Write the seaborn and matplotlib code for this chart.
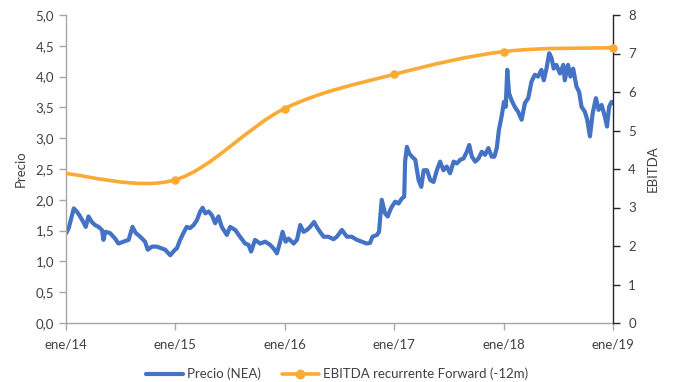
import matplotlib
matplotlib.use("Agg")
import matplotlib.pyplot as plt
import matplotlib.dates as mdates
from matplotlib.path import Path
from matplotlib.patches import PathPatch
from matplotlib.lines import Line2D
from matplotlib.ticker import FuncFormatter, MultipleLocator
import numpy as np
import pandas as pd
import seaborn as sns

# Share price (NEA), EUR
price_dates = [
    "2014-01-02", "2014-01-10", "2014-01-27", "2014-02-06", "2014-02-17", "2014-03-02",
    "2014-03-08", "2014-03-17", "2014-03-28", "2014-04-08", "2014-04-20", "2014-05-01",
    "2014-05-06", "2014-05-12", "2014-05-28", "2014-06-14", "2014-06-25", "2014-07-12",
    "2014-07-29", "2014-08-11", "2014-08-22", "2014-09-06", "2014-09-22", "2014-10-01",
    "2014-10-15", "2014-10-31", "2014-11-17", "2014-11-28", "2014-12-15", "2014-12-31",
    "2015-01-06", "2015-01-17", "2015-01-28", "2015-02-08", "2015-02-19", "2015-03-03",
    "2015-03-14", "2015-03-25", "2015-04-02", "2015-04-11", "2015-04-22", "2015-05-03",
    "2015-05-14", "2015-05-25", "2015-06-05", "2015-06-22", "2015-07-03", "2015-07-20",
    "2015-08-05", "2015-08-22", "2015-09-02", "2015-09-11", "2015-09-24", "2015-10-11",
    "2015-10-28", "2015-11-13", "2015-11-25", "2015-12-06", "2015-12-17", "2015-12-25",
    "2016-01-04", "2016-01-14", "2016-01-31", "2016-02-11", "2016-02-22", "2016-03-04",
    "2016-03-15", "2016-03-26", "2016-04-08", "2016-04-17", "2016-04-28", "2016-05-10",
    "2016-05-26", "2016-06-12", "2016-06-23", "2016-07-10", "2016-07-27", "2016-08-12",
    "2016-08-29", "2016-09-14", "2016-10-01", "2016-10-12", "2016-10-20", "2016-11-04",
    "2016-11-11", "2016-11-20", "2016-12-01", "2016-12-10", "2016-12-18", "2016-12-24",
    "2017-01-04", "2017-01-15", "2017-01-26", "2017-02-03", "2017-02-06", "2017-02-12",
    "2017-02-20", "2017-03-01", "2017-03-12", "2017-03-23", "2017-04-01", "2017-04-09",
    "2017-04-20", "2017-05-01", "2017-05-12", "2017-05-23", "2017-06-03", "2017-06-14",
    "2017-06-25", "2017-07-06", "2017-07-18", "2017-07-29", "2017-08-09", "2017-08-20",
    "2017-08-31", "2017-09-08", "2017-09-17", "2017-09-28", "2017-10-09", "2017-10-20",
    "2017-10-31", "2017-11-11", "2017-11-22", "2017-12-01", "2017-12-09", "2017-12-16",
    "2017-12-25", "2018-01-02", "2018-01-08", "2018-01-13", "2018-01-19", "2018-01-27",
    "2018-02-07", "2018-02-18", "2018-03-02", "2018-03-13", "2018-03-24", "2018-04-04",
    "2018-04-15", "2018-04-26", "2018-05-07", "2018-05-15", "2018-05-24", "2018-06-02",
    "2018-06-10", "2018-06-17", "2018-06-26", "2018-07-08", "2018-07-19", "2018-07-24",
    "2018-08-04", "2018-08-12", "2018-08-21", "2018-09-01", "2018-09-10", "2018-09-18",
    "2018-09-29", "2018-10-07", "2018-10-16", "2018-10-25", "2018-11-05", "2018-11-14",
    "2018-11-24", "2018-12-05", "2018-12-12", "2018-12-19", "2018-12-27", "2018-12-31",
]
price_values = [
    1.46, 1.54, 1.86, 1.81, 1.73, 1.62,
    1.56, 1.73, 1.64, 1.59, 1.56, 1.51,
    1.35, 1.48, 1.46, 1.37, 1.29, 1.32,
    1.35, 1.56, 1.46, 1.40, 1.32, 1.19,
    1.24, 1.24, 1.21, 1.19, 1.10, 1.19,
    1.21, 1.35, 1.46, 1.56, 1.54, 1.59,
    1.67, 1.81, 1.87, 1.78, 1.81, 1.75,
    1.62, 1.73, 1.56, 1.43, 1.56, 1.51,
    1.40, 1.29, 1.27, 1.16, 1.35, 1.29,
    1.32, 1.27, 1.21, 1.13, 1.32, 1.48,
    1.32, 1.37, 1.29, 1.35, 1.59, 1.48,
    1.51, 1.56, 1.64, 1.56, 1.48, 1.40,
    1.40, 1.36, 1.40, 1.51, 1.40, 1.40,
    1.35, 1.32, 1.29, 1.30, 1.40, 1.43,
    1.48, 2.00, 1.78, 1.73, 1.83, 1.89,
    1.97, 1.94, 2.02, 2.05, 2.62, 2.86,
    2.75, 2.70, 2.65, 2.32, 2.21, 2.48,
    2.48, 2.32, 2.29, 2.48, 2.62, 2.48,
    2.54, 2.43, 2.62, 2.59, 2.65, 2.67,
    2.78, 2.89, 2.70, 2.62, 2.67, 2.78,
    2.73, 2.84, 2.70, 2.70, 2.84, 3.13,
    3.35, 3.59, 3.51, 4.11, 3.73, 3.62,
    3.51, 3.43, 3.30, 3.57, 3.65, 3.92,
    4.03, 4.00, 4.11, 3.94, 4.13, 4.38,
    4.30, 4.13, 4.19, 4.05, 4.19, 3.94,
    4.19, 4.00, 4.13, 3.84, 3.75, 3.51,
    3.43, 3.30, 3.03, 3.40, 3.65, 3.46,
    3.54, 3.35, 3.19, 3.51, 3.59, 3.57,
]

# Recurring EBITDA forward (-12m)
ebitda_dates = ["2014-01-01", "2015-01-01", "2016-01-01", "2017-01-01", "2018-01-01", "2019-01-01"]
ebitda_values = [3.88, 3.72, 5.57, 6.46, 7.05, 7.15]

x_tick_dates = ["2014-01-01", "2015-01-01", "2016-01-01", "2017-01-01", "2018-01-01", "2019-01-01"]
x_tick_labels = ["ene/14", "ene/15", "ene/16", "ene/17", "ene/18", "ene/19"]

BLUE = "#4472C4"
ORANGE = "#FBAA33"
TEXT = "#404040"
SPINE = "#A6A6A6"

sns.set_theme(style="white")
plt.rcParams["font.family"] = ["Lato", "DejaVu Sans"]
plt.rcParams["font.size"] = 9.5

price_df = pd.DataFrame({"fecha": pd.to_datetime(price_dates), "precio": price_values})
ebitda_df = pd.DataFrame({"fecha": pd.to_datetime(ebitda_dates), "ebitda": ebitda_values})

fig = plt.figure(figsize=(6.74, 3.82), dpi=100)
ax = fig.add_axes([66 / 674, 1 - 323 / 382, (613 - 66) / 674, (323 - 15) / 382])
ax2 = ax.twinx()

sns.lineplot(data=price_df, x="fecha", y="precio", ax=ax, color=BLUE,
             linewidth=3.0, solid_joinstyle="round", legend=False)

# Smoothed EBITDA curve: cubic Bezier segments through the yearly points
xs = mdates.date2num(ebitda_df["fecha"])
ys = ebitda_df["ebitda"].to_numpy()
pts = np.column_stack([xs, ys])
verts = [tuple(pts[0])]
codes = [Path.MOVETO]
n = len(pts)
for i in range(n - 1):
    p_prev = pts[i - 1] if i > 0 else pts[i]
    p_next2 = pts[i + 2] if i + 2 < n else pts[i + 1]
    c1 = pts[i] + (pts[i + 1] - p_prev) / 6.0
    c2 = pts[i + 1] - (p_next2 - pts[i]) / 6.0
    verts += [tuple(c1), tuple(c2), tuple(pts[i + 1])]
    codes += [Path.CURVE4, Path.CURVE4, Path.CURVE4]
curve = PathPatch(Path(verts, codes), facecolor="none", edgecolor=ORANGE,
                  linewidth=2.6, capstyle="round", joinstyle="round")
ax2.add_patch(curve)
sns.scatterplot(data=ebitda_df.iloc[1:], x="fecha", y="ebitda", ax=ax2, color=ORANGE,
                s=38, edgecolor=ORANGE, linewidth=0, legend=False, zorder=5, clip_on=False)

tick_pos = pd.to_datetime(x_tick_dates)
ax.set_xlim(tick_pos[0], tick_pos[-1])
ax.set_xticks(tick_pos)
ax.set_xticklabels(x_tick_labels)
ax.set_ylim(0, 5)
ax.yaxis.set_major_locator(MultipleLocator(0.5))
ax.yaxis.set_major_formatter(FuncFormatter(lambda v, p: f"{v:.1f}".replace(".", ",")))
ax2.set_ylim(0, 8)
ax2.yaxis.set_major_locator(MultipleLocator(1))
ax2.yaxis.set_major_formatter(FuncFormatter(lambda v, p: f"{v:.0f}"))

ax.set_xlabel("")
ax.set_ylabel("Precio", color=TEXT, fontsize=9.5, labelpad=6)
ax2.set_ylabel("EBITDA", color=TEXT, fontsize=9.5, labelpad=8)

for a in (ax, ax2):
    a.grid(False)
    a.spines["top"].set_visible(False)
    for s in a.spines.values():
        s.set_color(SPINE)
        s.set_linewidth(1.0)
ax.spines["right"].set_visible(False)
ax2.spines["left"].set_visible(False)
ax2.spines["bottom"].set_visible(False)
ax2.spines["right"].set_color("#262626")

ax.tick_params(axis="both", which="major", direction="out", length=5, width=1,
               color=SPINE, labelcolor=TEXT, labelsize=9.5, left=True, bottom=True)
ax.tick_params(axis="x", pad=6)
ax2.tick_params(axis="y", direction="out", length=5, width=1, color="#262626",
                labelcolor=TEXT, labelsize=9.5, right=True, pad=6)

handles = [
    Line2D([0], [0], color=BLUE, linewidth=3.0),
    Line2D([0], [0], color=ORANGE, linewidth=2.6, marker="o", markersize=6),
]
fig.legend(handles, ["Precio (NEA)", "EBITDA recurrente Forward (-12m)"],
           loc="center", bbox_to_anchor=(0.5, 1 - 374 / 382), ncol=2, frameon=False,
           fontsize=9.5, handlelength=2.8, columnspacing=1.6, handletextpad=0.3,
           labelcolor=TEXT)

fig.savefig("out.png", dpi=100)
